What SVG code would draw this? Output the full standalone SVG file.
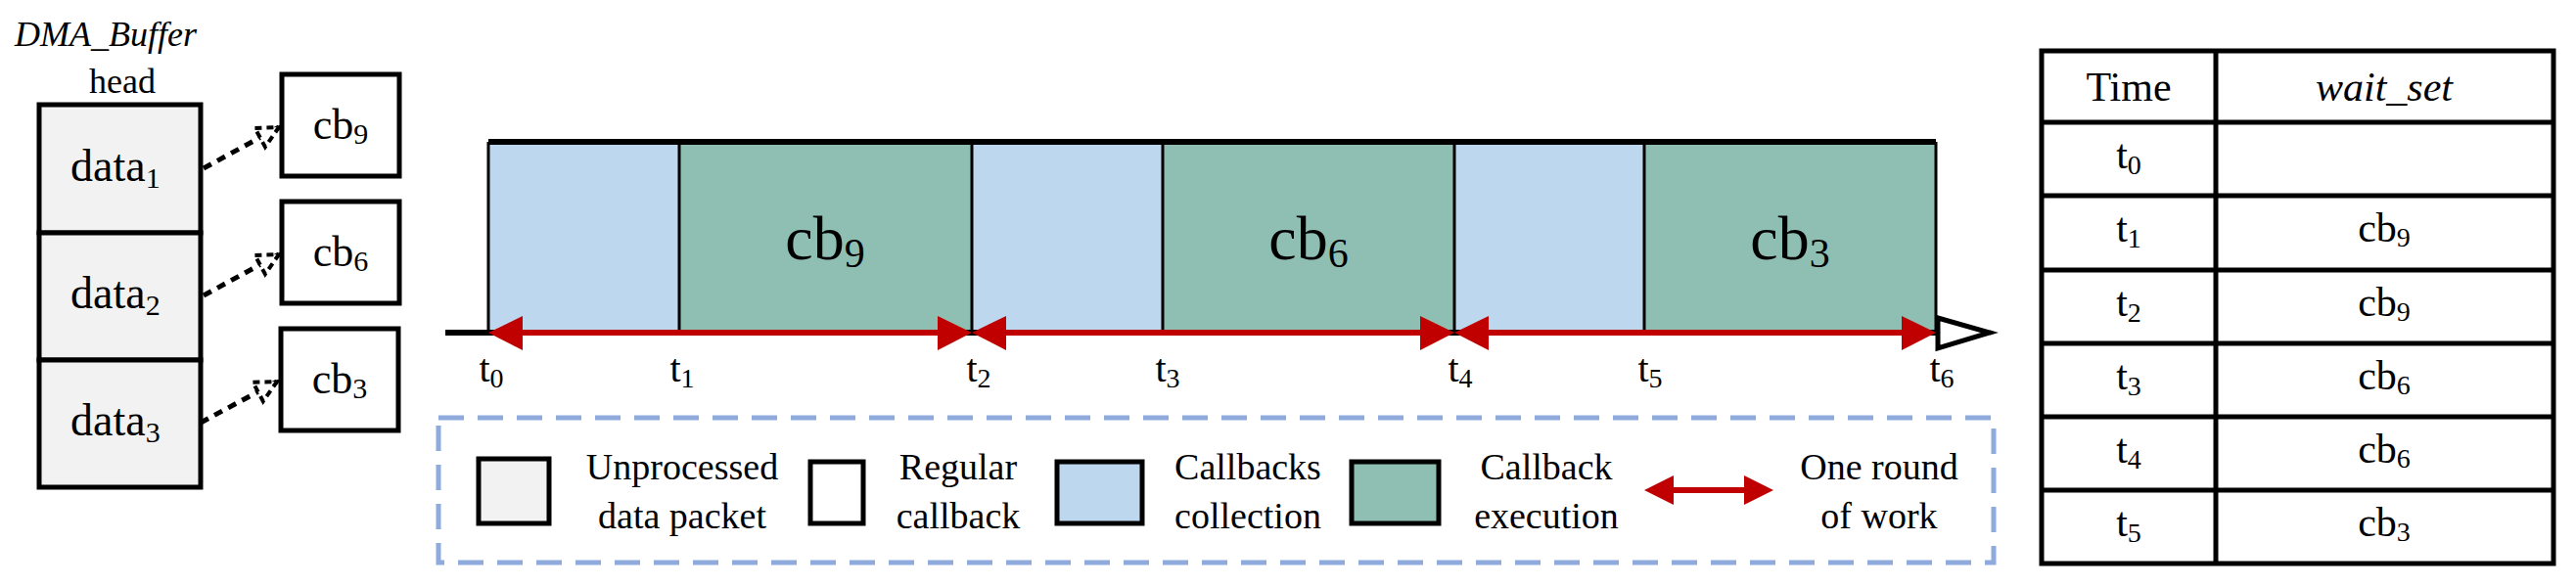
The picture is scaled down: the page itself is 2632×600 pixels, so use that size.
<svg xmlns="http://www.w3.org/2000/svg" width="2632" height="600" viewBox="0 0 2632 600" font-family="'Liberation Serif', 'Times New Roman', 'DejaVu Serif', serif">
<style>
text{font-family:'Liberation Serif','Times New Roman','DejaVu Serif',serif;fill:#000}
.b{stroke:#000;stroke-width:5}
.d{fill:#F2F2F2}.w{fill:#fff}.c{fill:#BDD7EE}.e{fill:#8FBFB2}
.t{font-size:40px}.lg{font-size:38px;text-anchor:middle}
.dash{fill:none;stroke:#000;stroke-width:5;stroke-dasharray:9 7}
.red{stroke:#C00000;stroke-width:6}
</style>
<defs>
<marker id="open" markerWidth="28" markerHeight="28" refX="25" refY="14" orient="auto" markerUnits="userSpaceOnUse" viewBox="0 0 28 28"><path d="M3,3 L25,14 L3,25 Z" fill="#fff" stroke="#000" stroke-width="4" stroke-dasharray="7 5"/></marker>
</defs>
<text x="15" y="47" font-size="36" font-style="italic">DMA_Buffer</text>
<text x="125" y="95" font-size="36" text-anchor="middle">head</text>
<g id="data1"><rect x="40" y="107" width="165" height="131" class="b d"/><text x="72" y="185" font-size="46">data<tspan font-size="30" dy="7">1</tspan></text></g>
<g id="data2"><rect x="40" y="238" width="165" height="130" class="b d"/><text x="72" y="315" font-size="46">data<tspan font-size="30" dy="7">2</tspan></text></g>
<g id="data3"><rect x="40" y="368" width="165" height="130" class="b d"/><text x="72" y="445" font-size="46">data<tspan font-size="30" dy="7">3</tspan></text></g>
<g id="cb9box"><rect x="288" y="76" width="120" height="104" class="b w"/><text x="348" y="142" font-size="44" text-anchor="middle">cb<tspan font-size="30" dy="5">9</tspan></text></g>
<g id="cb6box"><rect x="288" y="206" width="120" height="104" class="b w"/><text x="348" y="272" font-size="44" text-anchor="middle">cb<tspan font-size="30" dy="5">6</tspan></text></g>
<g id="cb3box"><rect x="287" y="336" width="120" height="104" class="b w"/><text x="347" y="402" font-size="44" text-anchor="middle">cb<tspan font-size="30" dy="5">3</tspan></text></g>
<g id="connectors">
<line x1="208" y1="172" x2="285" y2="130" class="dash" marker-end="url(#open)"/>
<line x1="208" y1="302" x2="285" y2="260" class="dash" marker-end="url(#open)"/>
<line x1="205" y1="432" x2="283" y2="390" class="dash" marker-end="url(#open)"/>
</g>
<g id="timeline">
<rect x="499" y="145" width="195" height="195" class="c"/>
<rect x="694" y="145" width="299" height="195" class="e"/>
<rect x="993" y="145" width="195" height="195" class="c"/>
<rect x="1188" y="145" width="298" height="195" class="e"/>
<rect x="1486" y="145" width="194" height="195" class="c"/>
<rect x="1680" y="145" width="298" height="195" class="e"/>
<line x1="499" y1="145" x2="1978" y2="145" stroke="#000" stroke-width="6"/>
<g stroke="#000" stroke-width="3"><line x1="499" y1="145" x2="499" y2="340"/><line x1="694" y1="145" x2="694" y2="340"/><line x1="993" y1="145" x2="993" y2="340"/><line x1="1188" y1="145" x2="1188" y2="340"/><line x1="1486" y1="145" x2="1486" y2="340"/><line x1="1680" y1="145" x2="1680" y2="340"/><line x1="1978" y1="145" x2="1978" y2="340"/></g>
<line x1="455" y1="340" x2="2010" y2="340" stroke="#000" stroke-width="6"/>
<path d="M1980,325 L2033,340 L1980,356 Z" fill="#fff" stroke="#000" stroke-width="5"/>
<g class="red"><line x1="520" y1="340" x2="970" y2="340"/><line x1="1015" y1="340" x2="1462" y2="340"/><line x1="1508" y1="340" x2="1955" y2="340"/></g>
<g fill="#C00000">
<path d="M499,340 L534,323 L534,358 Z"/><path d="M993,340 L958,323 L958,358 Z"/>
<path d="M993,340 L1028,323 L1028,358 Z"/><path d="M1486,340 L1451,323 L1451,358 Z"/>
<path d="M1486,340 L1521,323 L1521,358 Z"/><path d="M1978,340 L1943,323 L1943,358 Z"/>
</g>
<g font-size="64" text-anchor="middle"><text x="843" y="265">cb<tspan font-size="42" dy="8">9</tspan></text><text x="1337" y="265">cb<tspan font-size="42" dy="8">6</tspan></text><text x="1829" y="265">cb<tspan font-size="42" dy="8">3</tspan></text></g>
<g class="t" text-anchor="middle">
<text x="502" y="390">t<tspan font-size="28" dy="6">0</tspan></text>
<text x="697" y="390">t<tspan font-size="28" dy="6">1</tspan></text>
<text x="1000" y="390">t<tspan font-size="28" dy="6">2</tspan></text>
<text x="1193" y="390">t<tspan font-size="28" dy="6">3</tspan></text>
<text x="1492" y="390">t<tspan font-size="28" dy="6">4</tspan></text>
<text x="1686" y="390">t<tspan font-size="28" dy="6">5</tspan></text>
<text x="1984" y="390">t<tspan font-size="28" dy="6">6</tspan></text>
</g>
</g>
<g id="legend">
<rect x="448" y="427" width="1589" height="148" fill="none" stroke="#8FAADC" stroke-width="5" stroke-dasharray="26 14"/>
<rect x="489" y="469" width="72" height="66" class="b d"/>
<text class="lg" x="697" y="490">Unprocessed</text><text class="lg" x="697" y="540">data packet</text>
<rect x="828" y="472" width="54" height="63" class="b w"/>
<text class="lg" x="979" y="490">Regular</text><text class="lg" x="979" y="540">callback</text>
<rect x="1080" y="472" width="87" height="63" class="b c"/>
<text class="lg" x="1275" y="490">Callbacks</text><text class="lg" x="1275" y="540">collection</text>
<rect x="1381" y="472" width="89" height="63" class="b e"/>
<text class="lg" x="1580" y="490">Callback</text><text class="lg" x="1580" y="540">execution</text>
<line x1="1700" y1="501" x2="1792" y2="501" class="red"/>
<path d="M1680,501 L1710,486 L1710,516 Z" fill="#C00000"/><path d="M1812,501 L1782,486 L1782,516 Z" fill="#C00000"/>
<text class="lg" x="1920" y="490">One round</text><text class="lg" x="1920" y="540">of work</text>
</g>
<g id="table" font-size="42">
<rect x="2086" y="52" width="523" height="524" fill="#fff" stroke="#000" stroke-width="5"/>
<g stroke="#000" stroke-width="5"><line x1="2264" y1="52" x2="2264" y2="576"/>
<line x1="2086" y1="125" x2="2609" y2="125"/><line x1="2086" y1="200" x2="2609" y2="200"/><line x1="2086" y1="276" x2="2609" y2="276"/><line x1="2086" y1="351" x2="2609" y2="351"/><line x1="2086" y1="426" x2="2609" y2="426"/><line x1="2086" y1="501" x2="2609" y2="501"/></g>
<g text-anchor="middle">
<text x="2175" y="103">Time</text><text x="2436" y="103" font-style="italic">wait_set</text>
<text x="2175" y="172">t<tspan font-size="28" dy="6">0</tspan></text>
<text x="2175" y="247">t<tspan font-size="28" dy="6">1</tspan></text><text x="2436" y="247">cb<tspan font-size="28" dy="5">9</tspan></text>
<text x="2175" y="323">t<tspan font-size="28" dy="6">2</tspan></text><text x="2436" y="323">cb<tspan font-size="28" dy="5">9</tspan></text>
<text x="2175" y="398">t<tspan font-size="28" dy="6">3</tspan></text><text x="2436" y="398">cb<tspan font-size="28" dy="5">6</tspan></text>
<text x="2175" y="473">t<tspan font-size="28" dy="6">4</tspan></text><text x="2436" y="473">cb<tspan font-size="28" dy="5">6</tspan></text>
<text x="2175" y="548">t<tspan font-size="28" dy="6">5</tspan></text><text x="2436" y="548">cb<tspan font-size="28" dy="5">3</tspan></text>
</g>
</g>
</svg>
